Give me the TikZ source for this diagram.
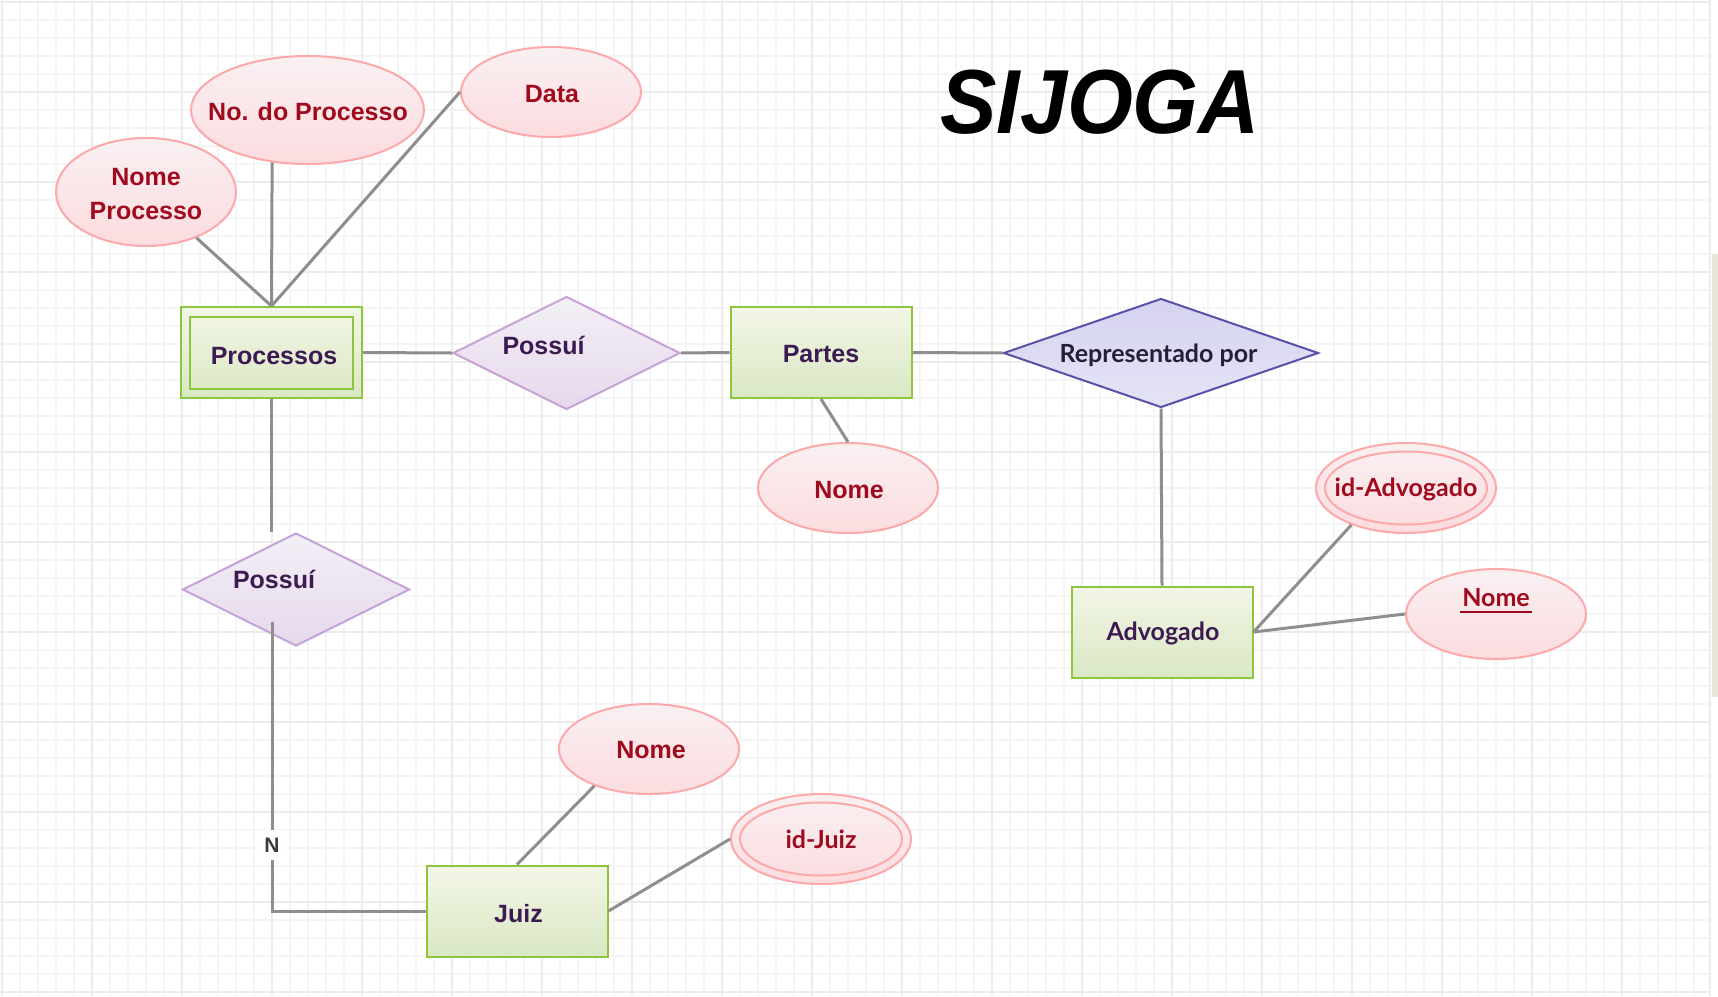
\documentclass[tikz,border=0pt]{standalone}
\usepackage{fontspec}
\setmainfont{Liberation Sans}
\newfontfamily\latofont{Lato}
\usetikzlibrary{shapes.geometric}
\definecolor{entborder}{HTML}{8CC63F}
\definecolor{enttop}{HTML}{F2F6E6}
\definecolor{entbot}{HTML}{DAE8C4}
\definecolor{relborder}{HTML}{C6A3D6}
\definecolor{reltop}{HTML}{F3F0F6}
\definecolor{relbot}{HTML}{E6D8EC}
\definecolor{reprborder}{HTML}{5552A8}
\definecolor{reprtop}{HTML}{D5D3F1}
\definecolor{reprbot}{HTML}{E5E4F6}
\definecolor{attrborder}{HTML}{FCA9AC}
\definecolor{attrtop}{HTML}{F9F0F2}
\definecolor{attrbot}{HTML}{FCDCDF}
\definecolor{conngray}{HTML}{8E8E8E}
\definecolor{purpletext}{HTML}{3E1A52}
\definecolor{redtext}{HTML}{A00A1E}
\definecolor{reprtext}{HTML}{232038}
\definecolor{ntext}{HTML}{3C3C3C}
\definecolor{minorgrid}{HTML}{F5F5F5}
\definecolor{majorgrid}{HTML}{ECECEC}
\definecolor{edgestrip}{HTML}{EBE6DA}
\newcommand\ulnome[1]{\setbox0\hbox{#1}\rlap{\kern-2pt\rule[-7pt]{\dimexpr\wd0+4pt\relax}{2pt}}\box0}
\begin{document}
\begin{tikzpicture}[x=1pt,y=-1pt,
  entbox/.style={rectangle, draw=entborder, line width=2pt, top color=enttop, bottom color=entbot, minimum width=181pt, minimum height=91pt, inner sep=0pt},
  entinner/.style={rectangle, draw=entborder, line width=2pt, minimum width=163pt, minimum height=72pt, inner sep=0pt},
  relbox/.style={diamond, draw=relborder, line width=2pt, top color=reltop, bottom color=relbot, minimum width=227pt, minimum height=113pt, inner sep=0pt},
  reprbox/.style={diamond, draw=reprborder, line width=2pt, top color=reprtop, bottom color=reprbot, minimum width=315pt, minimum height=109pt, inner sep=0pt},
  attrbox/.style={ellipse, draw=attrborder, line width=2pt, top color=attrtop, bottom color=attrbot, minimum width=180pt, minimum height=90pt, inner sep=0pt},
  attrinner/.style={ellipse, draw=attrborder, line width=2pt, minimum width=162pt, minimum height=73pt, inner sep=0pt},
  conn/.style={draw=conngray, line width=3pt},
  enttxt/.style={font=\fontsize{25}{30}\selectfont\bfseries, text=purpletext, inner sep=0pt, anchor=base},
  entlato/.style={font=\latofont\fontsize{25}{30}\selectfont\bfseries, text=purpletext, inner sep=0pt, anchor=base},
  attrtxt/.style={font=\fontsize{25}{34}\selectfont\bfseries, text=redtext, inner sep=0pt, anchor=base},
  attrlato/.style={font=\latofont\fontsize{25}{30}\selectfont\bfseries, text=redtext, inner sep=0pt, anchor=base},
  minorline/.style={draw=minorgrid, line width=1.2pt},
  majorline/.style={draw=majorgrid, line width=1.5pt}
]
\useasboundingbox (0,0) rectangle (1718,996);
\fill[white] (0,0) rectangle (1718,996);
% grid
\foreach \i in {0,...,94} { \draw[minorline] ({2+18*\i},0) -- ({2+18*\i},996); }
\foreach \j in {0,...,55} { \draw[minorline] (0,{2+18*\j}) -- (1710,{2+18*\j}); }
\foreach \i in {0,...,18} { \draw[majorline] ({2+90*\i},0) -- ({2+90*\i},996); }
\foreach \j in {0,...,11} { \draw[majorline] (0,{2+90*\j}) -- (1710,{2+90*\j}); }
\draw[majorline] (1710,0) -- (1710,996);
\fill[edgestrip] (1712,254) rectangle (1718,697);

% title
\node[font=\fontsize{91}{100}\selectfont\bfseries\itshape, text=black, inner sep=0pt, anchor=base, xscale=0.93] (title) at (1100,133) {SIJOGA};

% entity and relation shapes
\node[entbox] (proc) at (271.5,352.5) {};
\node[entinner] (procin) at (271.5,352.5) {};
\node[relbox] (pos1) at (566.5,353) {};
\node[entbox] (partes) at (821,352.5) {};
\node[reprbox] (repr) at (1161,353) {};
\node[entbox] (adv) at (1162,632) {};
\node[relbox] (pos2) at (296,589.5) {};
\node[entbox] (juiz) at (517,911) {};

% attributes
\node[attrbox, minimum height=108pt] (nomeproc) at (146,192) {};
\node[attrbox, minimum width=233pt, minimum height=108pt] (nodoproc) at (307.5,110) {};
\node[attrbox] (data) at (551,92) {};
\node[attrbox] (nomep) at (848,488) {};
\node[attrbox] (idadv) at (1406,488) {};
\node[attrinner] (idadvin) at (1406,488) {};
\node[attrbox] (nome2) at (1496,614) {};
\node[attrbox] (nomej) at (649,749) {};
\node[attrbox] (idjuiz) at (821,839) {};
\node[attrinner] (idjuizin) at (821,839) {};

% connectors
\draw[conn] (proc.north) -- (nomeproc);
\draw[conn] (proc.north) -- (nodoproc.236);
\draw[conn] (proc.north) -- (data.west);
\draw[conn] (proc.east) -- (pos1.west);
\draw[conn] (pos1.east) -- (partes.west);
\draw[conn] (partes.east) -- (repr.west);
\draw[conn] (partes.south) -- (nomep.north);
\draw[conn] (repr.south) -- (adv.north);
\draw[conn] (adv.east) -- (idadv.214);
\draw[conn] (adv.east) -- (nome2.west);
\draw[conn] (proc.south) -- (pos2.north -| proc.south);
\coordinate (pos2s) at (272,622);
\draw[conn] (pos2s) |- (juiz.west);
\draw[conn] (juiz.north) -- (nomej.214);
\draw[conn] (juiz.east) -- (idjuiz.west);

% labels
\node[font=\fontsize{21}{24}\selectfont\bfseries, text=ntext, fill=white, inner xsep=4pt, inner ysep=8pt] (nlab) at (272,845) {N};
\node[attrtxt, anchor=center, align=center] (nomeproct) at (146,194) {Nome\\Processo};
\node[attrtxt] (nodoproct) at (308,120) {No. do Processo};
\node[attrtxt] (datat) at (552,102) {Data};
\node[enttxt] (proct) at (274,364) {Processos};
\node[enttxt] (pos1t) at (543.5,354) {Possuí};
\node[enttxt] (partest) at (821,362) {Partes};
\node[font=\latofont\fontsize{25}{30}\selectfont\bfseries, text=reprtext, inner sep=0pt, anchor=base] (reprt) at (1158.5,362) {Representado por};
\node[attrtxt] (nomept) at (849,498) {Nome};
\node[entlato] (advt) at (1163,640) {Advogado};
\node[attrlato] (idadvt) at (1406,496) {id-Advogado};
\node[attrlato] (nome2t) at (1496,606) {\ulnome{Nome}};
\node[enttxt] (pos2t) at (274,588) {Possuí};
\node[enttxt] (juizt) at (518.5,922) {Juiz};
\node[attrtxt] (nomejt) at (651,758.5) {Nome};
\node[attrlato] (idjuizt) at (821,848) {id-Juiz};
\end{tikzpicture}
\end{document}
